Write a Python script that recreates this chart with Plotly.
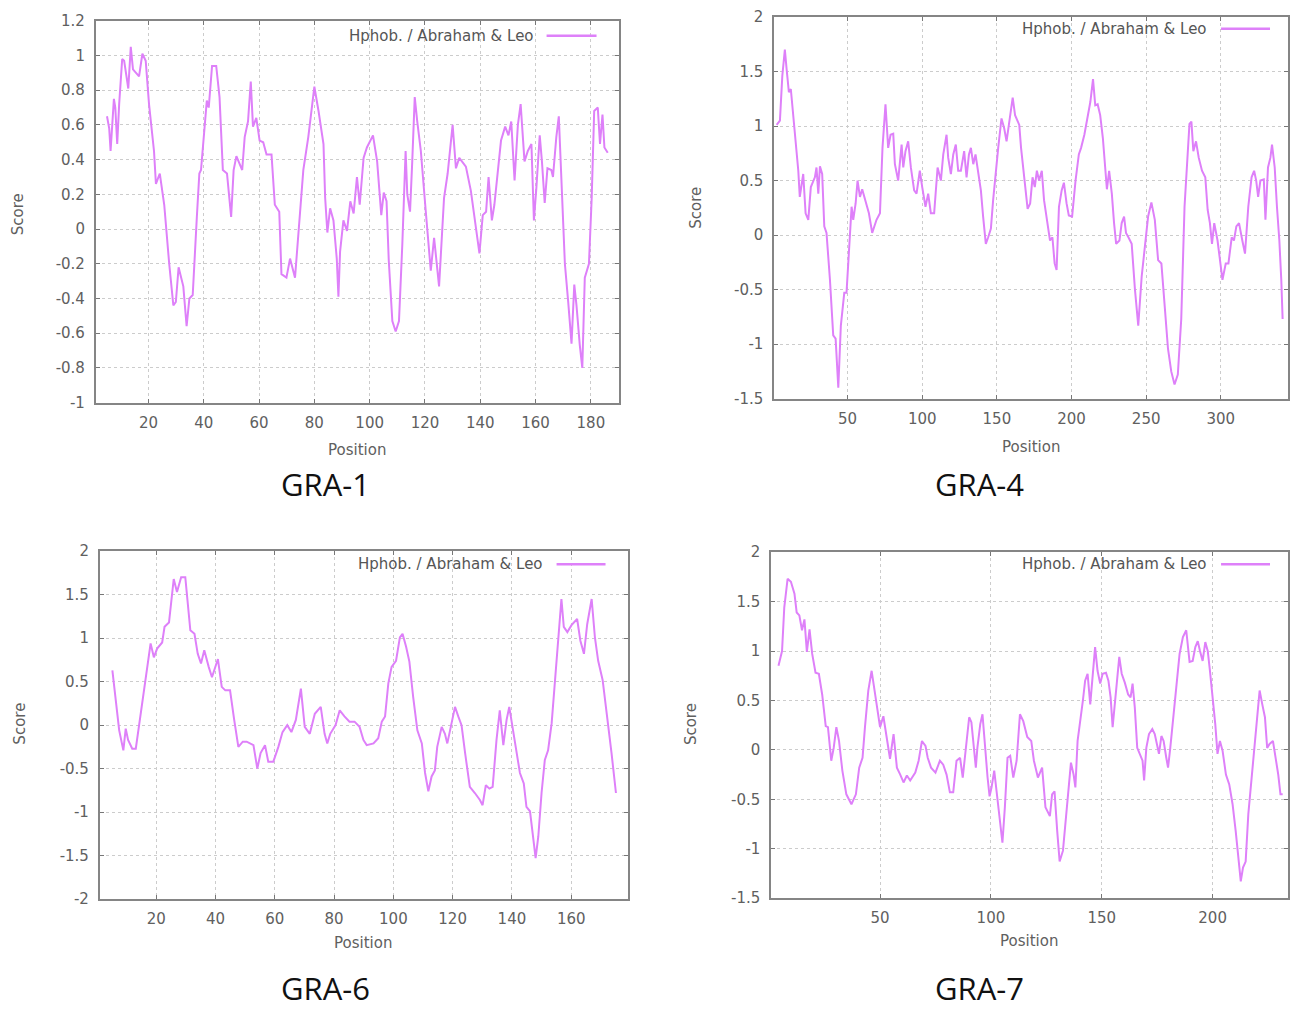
import plotly.graph_objects as go

# ---------------- data ----------------
gra1_pos = [5, 5.8, 6.3, 7, 7.5, 8, 8.7, 9.4, 10.5, 11.2, 12.7, 13.6, 14.4, 16.6, 17.8, 19, 20.2, 22, 22.7, 24.1,
            25.7, 27.5, 29, 29.9, 30.9, 32.6, 33.8, 34.8, 36, 37.5, 38.4, 39, 40.2, 41.1, 41.8, 43, 44.5, 45.7, 46.9,
            48.4, 49.9, 50.8, 51.8, 53.9, 54.8, 56, 57, 57.8, 59, 60.2, 61.5, 62.7, 64.5, 65.7, 67.3, 68.1, 69.9,
            71.2, 73, 74.2, 76, 77.8, 79, 80, 81.5, 83.3, 83.9, 84.7, 85.7, 86.9, 88.1, 88.7, 89.3, 90.5, 91.8, 93,
            94.2, 95.4, 96.4, 97.8, 99, 101.2, 102.7, 104.2, 105.1, 106.1, 106.9, 108.2, 109.4, 110.6, 111.8, 113,
            113.6, 114.6, 115.4, 116.3, 117.2, 118.5, 120.3, 122.1, 123.3, 125.1, 126.9, 128.2, 130, 131.2, 132.4,
            134.8, 136.6, 138.5, 139.7, 140.9, 142.1, 143, 144.2, 145.1, 146.3, 147.5, 149, 150.2, 151.2, 152.4,
            153.6, 154.6, 156, 157.2, 158.5, 159.4, 160.3, 161.5, 162.3, 163.3, 164.3, 165.7, 166.3, 167.5, 168.4,
            169.6, 170.6, 171.8, 173, 174, 174.8, 176, 176.9, 177.8, 179.3, 180.3, 181.2, 182.5, 183.3, 184.2,
            184.9, 186.1]
gra1_score = [0.65, 0.58, 0.45, 0.60, 0.75, 0.70, 0.49, 0.72, 0.98, 0.97, 0.81, 1.05, 0.92, 0.88, 1.01, 0.97, 0.72,
              0.45, 0.26, 0.32, 0.14, -0.20, -0.44, -0.42, -0.22, -0.33, -0.56, -0.40, -0.38, 0.07, 0.32, 0.34,
              0.59, 0.74, 0.70, 0.94, 0.94, 0.76, 0.34, 0.32, 0.07, 0.34, 0.42, 0.34, 0.53, 0.62, 0.85, 0.59, 0.64,
              0.51, 0.50, 0.43, 0.43, 0.14, 0.10, -0.26, -0.28, -0.17, -0.28, -0.01, 0.34, 0.53, 0.68, 0.82, 0.68,
              0.49, 0.18, -0.02, 0.12, 0.05, -0.17, -0.39, -0.13, 0.05, -0.01, 0.16, 0.09, 0.30, 0.14, 0.41, 0.47,
              0.54, 0.39, 0.08, 0.21, 0.16, -0.18, -0.53, -0.59, -0.53, -0.09, 0.45, 0.20, 0.10, 0.39, 0.76, 0.62,
              0.45, 0.10, -0.24, -0.05, -0.33, 0.18, 0.32, 0.60, 0.35, 0.41, 0.36, 0.22, 0.01, -0.14, 0.08, 0.10,
              0.30, 0.05, 0.14, 0.34, 0.51, 0.59, 0.54, 0.62, 0.28, 0.60, 0.72, 0.39, 0.45, 0.49, 0.05, 0.24, 0.54,
              0.39, 0.15, 0.35, 0.34, 0.30, 0.53, 0.65, 0.18, -0.20, -0.42, -0.66, -0.32, -0.44, -0.67, -0.80,
              -0.28, -0.20, 0.18, 0.68, 0.70, 0.49, 0.66, 0.47, 0.44]

gra4_pos = [2.5, 4.7, 6.3, 8, 9.2, 10.7, 12, 14.3, 17, 18, 20.3, 21.9, 23.7, 25.4, 28.1, 29.2, 30.4, 31.5, 33, 34.4,
            35.9, 38.2, 40.4, 42, 43.8, 45.5, 47.8, 49.3, 51.6, 52.7, 53.8, 55.4, 56.7, 58.3, 59.8, 61.6, 64.3,
            66.5, 69.4, 71.7, 73.4, 75.4, 77.2, 78.8, 80.6, 81.7, 83.9, 86.2, 87.3, 88.8, 90.6, 92.4, 94.6, 96.2,
            98.4, 100, 102.2, 104, 105.8, 108, 110.3, 112.5, 114.1, 116.3, 117.4, 119.2, 120.8, 122.5, 124.1,
            125.9, 128.1, 129.7, 131.3, 132.6, 134.2, 135.7, 137.5, 139.3, 140.8, 142.6, 144.2, 146, 147.5, 149.1,
            150.9, 153.1, 154.9, 156.5, 158.7, 160.6, 162.2, 165, 166.2, 168.4, 170.6, 172.3, 173.9, 175.4, 176.8,
            178.3, 180.1, 181.6, 183.8, 185.6, 187.2, 188.7, 190, 191.6, 193.4, 194.9, 196.7, 198.2, 200.4, 202.7,
            204.9, 206.4, 208.6, 210.8, 212.6, 214.4, 215.9, 217.5, 219.2, 221, 222.6, 223.7, 225.2, 227, 228.5,
            229.9, 232.1, 233.6, 235.2, 236.5, 238.1, 240.3, 242.5, 244.7, 247, 249.1, 251.3, 253.5, 255.8, 258,
            260.2, 262.4, 264.6, 266.8, 269, 271.2, 273.5, 275.7, 277.2, 279, 280.3, 281.6, 283.4, 285.2, 287.4,
            289.6, 291.2, 292.7, 294.1, 295.6, 297.8, 300, 301.1, 303.3, 305.1, 307.3, 308.8, 310.4, 312.2, 314.4,
            316.2, 318.4, 320.6, 322.3, 323.7, 325, 326.5, 328.8, 329.9, 331.6, 333.2, 334.3, 336.1, 337.6, 339.2,
            340.5, 341.4]
gra4_score = [1.01, 1.05, 1.46, 1.70, 1.52, 1.31, 1.34, 1.01, 0.59, 0.35, 0.56, 0.20, 0.14, 0.44, 0.53, 0.62, 0.38,
              0.63, 0.56, 0.08, 0.02, -0.41, -0.92, -0.95, -1.40, -0.83, -0.53, -0.53, 0.02, 0.26, 0.14, 0.29,
              0.50, 0.35, 0.42, 0.33, 0.20, 0.02, 0.14, 0.20, 0.80, 1.20, 0.80, 0.92, 0.93, 0.65, 0.50, 0.83, 0.62,
              0.77, 0.86, 0.62, 0.41, 0.38, 0.59, 0.44, 0.26, 0.38, 0.20, 0.20, 0.62, 0.50, 0.74, 0.92, 0.71, 0.56,
              0.74, 0.83, 0.59, 0.59, 0.77, 0.53, 0.74, 0.80, 0.65, 0.74, 0.56, 0.41, 0.17, -0.08, -0.02, 0.06,
              0.32, 0.56, 0.80, 1.07, 0.98, 0.86, 1.10, 1.26, 1.10, 1.01, 0.80, 0.50, 0.24, 0.29, 0.53, 0.44, 0.59,
              0.50, 0.59, 0.32, 0.11, -0.05, -0.02, -0.26, -0.32, 0.26, 0.41, 0.48, 0.29, 0.18, 0.17, 0.50, 0.74,
              0.80, 0.92, 1.07, 1.22, 1.43, 1.19, 1.20, 1.10, 0.89, 0.62, 0.42, 0.59, 0.38, 0.11, -0.08, -0.05,
              0.11, 0.17, 0.02, -0.02, -0.08, -0.50, -0.83, -0.38, -0.08, 0.17, 0.30, 0.14, -0.23, -0.26, -0.65,
              -1.04, -1.25, -1.37, -1.28, -0.77, 0.26, 0.56, 1.02, 1.04, 0.77, 0.86, 0.71, 0.59, 0.53, 0.23, 0.11,
              -0.08, 0.11, -0.05, -0.29, -0.41, -0.26, -0.26, -0.02, -0.05, 0.08, 0.11, -0.05, -0.17, 0.26, 0.53,
              0.59, 0.50, 0.35, 0.50, 0.51, 0.14, 0.62, 0.71, 0.83, 0.62, 0.26, -0.05, -0.41, -0.77]

gra6_pos = [5.2, 6.4, 7.5, 8.9, 9.7, 10.5, 11.9, 13.1, 14.5, 15.9, 17, 18.1, 19.2, 20.3, 22, 22.8, 24.3, 25.9, 27,
            28.4, 29.8, 31.5, 32.9, 34, 35.1, 36.2, 37.7, 38.8, 40.8, 42.1, 43.3, 44.9, 46.3, 47.7, 49.2, 50.5,
            52.8, 54.1, 55.2, 56.7, 57.8, 59.5, 61.2, 62.6, 64.2, 65.6, 67.1, 68.8, 70.1, 71.8, 73.5, 75.5, 76.8,
            77.7, 78.7, 80.5, 81.9, 83.5, 85.2, 86.9, 88.6, 89.9, 91, 93.3, 94.9, 96.1, 97.2, 98.3, 99.4, 100.9,
            102.2, 103.1, 104.3, 105.4, 106.7, 108.1, 109.6, 110.7, 111.8, 112.9, 114, 114.8, 116.3, 117.4, 118.2,
            119.1, 120.8, 121.9, 123, 124.2, 125.8, 127.5, 129.2, 130.1, 131.2, 132.4, 133.5, 134.8, 135.9, 137.1,
            138.2, 139.1, 140.2, 141.6, 142.7, 144, 144.9, 146.1, 147.2, 148, 148.9, 150, 151.1, 152.2, 153.4,
            154.5, 155.6, 156.7, 157.5, 158.7, 160.1, 162, 163.1, 164.3, 165.4, 166.9, 168, 169.1, 170.6, 172.1,
            173.6, 175.1]
gra6_score = [0.63, 0.29, -0.06, -0.29, -0.04, -0.17, -0.27, -0.27, 0.06, 0.44, 0.67, 0.94, 0.78, 0.88, 0.95,
              1.13, 1.18, 1.68, 1.53, 1.70, 1.70, 1.09, 1.05, 0.82, 0.71, 0.86, 0.67, 0.55, 0.76, 0.44, 0.40, 0.40,
              0.06, -0.25, -0.19, -0.19, -0.23, -0.50, -0.32, -0.23, -0.42, -0.42, -0.25, -0.08, 0.00, -0.08, 0.06,
              0.42, -0.02, -0.10, 0.13, 0.21, -0.10, -0.21, -0.10, 0.00, 0.17, 0.10, 0.04, 0.04, -0.02, -0.17,
              -0.23, -0.21, -0.15, 0.04, 0.10, 0.48, 0.67, 0.74, 1.01, 1.05, 0.90, 0.73, 0.32, -0.06, -0.21, -0.55,
              -0.76, -0.59, -0.52, -0.25, -0.02, -0.10, -0.21, -0.06, 0.21, 0.10, 0.00, -0.32, -0.71, -0.78, -0.86,
              -0.92, -0.69, -0.73, -0.71, -0.17, 0.17, -0.23, 0.06, 0.21, -0.02, -0.36, -0.55, -0.67, -0.94, -0.99,
              -1.28, -1.53, -1.28, -0.78, -0.40, -0.29, 0.02, 0.52, 1.01, 1.45, 1.13, 1.07, 1.15, 1.22, 0.97, 0.82,
              1.16, 1.45, 1.01, 0.74, 0.52, 0.13, -0.32, -0.78]

gra7_pos = [4.2, 5.8, 6.8, 8.3, 9.8, 11.4, 12.4, 13.6, 14.8, 15.9, 17, 18.2, 19.4, 20.9, 22.4, 23.9, 25.5, 26.5, 28,
            29.1, 30.3, 31.5, 33, 34.8, 37.1, 39.1, 40.6, 42.1, 43.2, 44.7, 46.2, 47.3, 48.5, 50, 51.5, 53, 54.5,
            56.1, 57.6, 59.1, 60.6, 62.1, 63.6, 65.9, 67.4, 68.9, 70.5, 71.5, 73, 75, 77, 78.5, 80, 81.5, 83, 84.5,
            86.1, 87.3, 88.2, 89.1, 90.2, 91.2, 92.4, 93.2, 93.9, 95.2, 96.2, 97.3, 98.5, 99.4, 100.3, 101.5, 102.7,
            104.2, 105.2, 106.3, 107.5, 108.7, 110.1, 111.6, 113.1, 114.6, 116.4, 118.2, 119.4, 121.2, 123.1, 124.6,
            126.6, 127.6, 128.7, 129.9, 131, 132.5, 134, 135.1, 136.1, 137.3, 138.1, 139.1, 140.3, 141.5, 142.5,
            143.6, 144.8, 146, 147, 148.1, 149.3, 150.4, 151.9, 153, 154, 154.9, 156, 157, 157.9, 159, 160.4,
            161.9, 163, 163.9, 164.9, 166, 167.2, 168.4, 169.1, 170.1, 171.3, 172.8, 173.9, 174.9, 175.8, 176.9,
            177.9, 179.1, 179.9, 180.9, 182.1, 183.6, 185.1, 186.6, 188.1, 189.6, 191, 192.2, 193.3, 194.3, 195.5,
            196.7, 197.8, 198.8, 200, 201.2, 202.2, 203.3, 204.5, 206, 207.5, 209, 210.4, 211.6, 212.7, 213.7,
            214.9, 216.1, 217.2, 218.7, 219.9, 221.2, 222.4, 223.6, 224.6, 225.7, 227.2, 228.4, 229.6, 230.6, 231.6]
gra7_score = [0.85, 1.00, 1.44, 1.73, 1.70, 1.58, 1.39, 1.36, 1.21, 1.32, 0.99, 1.22, 0.97, 0.78, 0.77, 0.56, 0.24,
              0.23, -0.11, 0.02, 0.23, 0.09, -0.21, -0.45, -0.55, -0.45, -0.18, -0.08, 0.23, 0.60, 0.80, 0.63, 0.43,
              0.23, 0.34, 0.13, -0.09, 0.16, -0.18, -0.25, -0.33, -0.26, -0.31, -0.23, -0.11, 0.09, 0.04, -0.08,
              -0.18, -0.23, -0.11, -0.15, -0.25, -0.43, -0.43, -0.11, -0.08, -0.28, -0.08, 0.09, 0.33, 0.28, 0.02,
              -0.18, 0.02, 0.26, 0.36, 0.02, -0.28, -0.47, -0.38, -0.21, -0.45, -0.72, -0.94, -0.58, -0.08, -0.06,
              -0.28, -0.11, 0.36, 0.29, 0.13, 0.09, -0.11, -0.28, -0.18, -0.58, -0.67, -0.45, -0.42, -0.82, -1.13,
              -1.02, -0.65, -0.38, -0.13, -0.25, -0.38, 0.09, 0.28, 0.50, 0.70, 0.77, 0.46, 0.77, 1.04, 0.80, 0.67,
              0.77, 0.78, 0.70, 0.53, 0.23, 0.50, 0.77, 0.94, 0.77, 0.68, 0.56, 0.53, 0.67, 0.43, 0.02, -0.04,
              -0.11, -0.31, 0.02, 0.16, 0.21, 0.16, 0.06, -0.04, 0.14, 0.09, -0.08, -0.18, 0.02, 0.29, 0.63, 0.97,
              1.14, 1.21, 0.89, 0.90, 1.04, 1.10, 1.00, 0.90, 1.09, 1.00, 0.80, 0.56, 0.26, -0.04, 0.09, -0.01,
              -0.25, -0.35, -0.55, -0.82, -1.06, -1.33, -1.19, -1.13, -0.65, -0.38, -0.08, 0.26, 0.60, 0.46, 0.33,
              0.02, 0.06, 0.09, -0.08, -0.25, -0.45, -0.45]

titles = ["GRA-1", "GRA-4", "GRA-6", "GRA-7"]
legend_label = "Hphob. / Abraham & Leo"
x_title = "Position"
y_title = "Score"

gra1_yticks = [-1, -0.8, -0.6, -0.4, -0.2, 0, 0.2, 0.4, 0.6, 0.8, 1, 1.2]
gra1_xticks = [20, 40, 60, 80, 100, 120, 140, 160, 180]
gra4_yticks = [-1.5, -1, -0.5, 0, 0.5, 1, 1.5, 2]
gra4_xticks = [50, 100, 150, 200, 250, 300]
gra6_yticks = [-2, -1.5, -1, -0.5, 0, 0.5, 1, 1.5, 2]
gra6_xticks = [20, 40, 60, 80, 100, 120, 140, 160]
gra7_yticks = [-1.5, -1, -0.5, 0, 0.5, 1, 1.5, 2]
gra7_xticks = [50, 100, 150, 200]

# ---------------- layout helpers ----------------
W, H = 1298, 1019
OFF = 8
FW, FH = W - 2 * OFF, H - 2 * OFF
# measured vertical placement of the figure inside the captured page
Y_TOP, Y_SPAN = 14.2, 988.0


def clamp(v):
    return max(0.0, min(1.0, v))


def px_x(p):
    return clamp((p - OFF) / FW)


def px_y(p):
    return clamp(1 - (p - Y_TOP) / Y_SPAN)


def fmt(v):
    return "%g" % v


panels = [
    dict(pos=gra1_pos, score=gra1_score, xt=gra1_xticks, yt=gra1_yticks, xr=[1, 190], yr=[-1, 1.2],
         box=(96, 619, 18, 401), title=titles[0], tpos=(326, 483), xlab=(357, 449), ylab=(18, 212),
         leg=(536, 33, 547, 597)),
    dict(pos=gra4_pos, score=gra4_score, xt=gra4_xticks, yt=gra4_yticks, xr=[1, 345], yr=[-1.5, 2],
         box=(775, 1289, 12, 397), title=titles[1], tpos=(980, 483), xlab=(1032, 446), ylab=(697, 205),
         leg=(1210, 26, 1222, 1271)),
    dict(pos=gra6_pos, score=gra6_score, xt=gra6_xticks, yt=gra6_yticks, xr=[1, 179], yr=[-2, 2],
         box=(100, 628, 550, 899), title=titles[2], tpos=(326, 988), xlab=(363, 943), ylab=(20, 723),
         leg=(545, 563, 557, 606)),
    dict(pos=gra7_pos, score=gra7_score, xt=gra7_xticks, yt=gra7_yticks, xr=[1, 234], yr=[-1.5, 2],
         box=(772, 1289, 551, 898), title=titles[3], tpos=(980, 988), xlab=(1030, 941), ylab=(691, 723),
         leg=(1210, 563, 1222, 1271)),
]

LINE = "#DE80F9"
FRAME = "#858585"
GRID = "#cccccc"
SMALL = 15
TICKFONT = dict(family="DejaVu Sans", size=SMALL, color="#606060")

fig = go.Figure()
layout = dict(width=FW, height=FH, margin=dict(l=0, r=0, t=0, b=0), showlegend=False,
              plot_bgcolor="white", paper_bgcolor="white")
annotations = []
shapes = []

for i, p in enumerate(panels):
    n = "" if i == 0 else str(i + 1)
    xa, ya = "xaxis" + n, "yaxis" + n
    xref, yref = "x" + n, "y" + n
    x0, x1, y0, y1 = p["box"]
    fig.add_trace(go.Scatter(x=p["pos"], y=p["score"], mode="lines", xaxis=xref, yaxis=yref,
                             line=dict(color=LINE, width=2), name=legend_label, hoverinfo="skip"))
    common = dict(showline=True, linecolor=FRAME, linewidth=2, mirror="ticks", ticks="inside", ticklen=4,
                  tickcolor="#777777", tickwidth=1, showgrid=True, gridcolor=GRID, griddash="dot", gridwidth=1,
                  zeroline=False, tickfont=TICKFONT, fixedrange=True)
    layout[xa] = dict(common, domain=[px_x(x0), px_x(x1)], range=p["xr"], tickvals=p["xt"],
                      ticktext=[fmt(v) for v in p["xt"]], anchor=yref, ticklabelstandoff=5)
    layout[ya] = dict(common, domain=[px_y(y1), px_y(y0)], range=p["yr"], tickvals=p["yt"],
                      ticktext=[fmt(v) for v in p["yt"]], anchor=xref, ticklabelstandoff=6)
    annotations.append(dict(text=p["title"], xref="paper", yref="paper", x=px_x(p["tpos"][0]),
                            y=px_y(p["tpos"][1]), xanchor="center", yanchor="middle", showarrow=False,
                            font=dict(family="Open Sans", size=31, color="#111111")))
    annotations.append(dict(text=x_title, xref="paper", yref="paper", x=px_x(p["xlab"][0]),
                            y=px_y(p["xlab"][1]), xanchor="center", yanchor="middle", showarrow=False,
                            font=dict(family="DejaVu Sans", size=SMALL, color="#606060")))
    annotations.append(dict(text=y_title, xref="paper", yref="paper", x=px_x(p["ylab"][0]),
                            y=px_y(p["ylab"][1]), xanchor="center", yanchor="middle", showarrow=False,
                            textangle=-90, font=dict(family="DejaVu Sans", size=SMALL, color="#606060")))
    tx, ty, lx0, lx1 = p["leg"]
    annotations.append(dict(text=legend_label, xref="paper", yref="paper", x=px_x(tx), y=px_y(ty),
                            xanchor="right", yanchor="middle", showarrow=False,
                            font=dict(family="DejaVu Sans", size=SMALL, color="#555555")))
    shapes.append(dict(type="line", xref="paper", yref="paper", x0=px_x(lx0), x1=px_x(lx1),
                       y0=px_y(ty), y1=px_y(ty), line=dict(color=LINE, width=2.5)))

layout["annotations"] = annotations
layout["shapes"] = shapes
fig.update_layout(**layout)
fig.write_html("out.html")
